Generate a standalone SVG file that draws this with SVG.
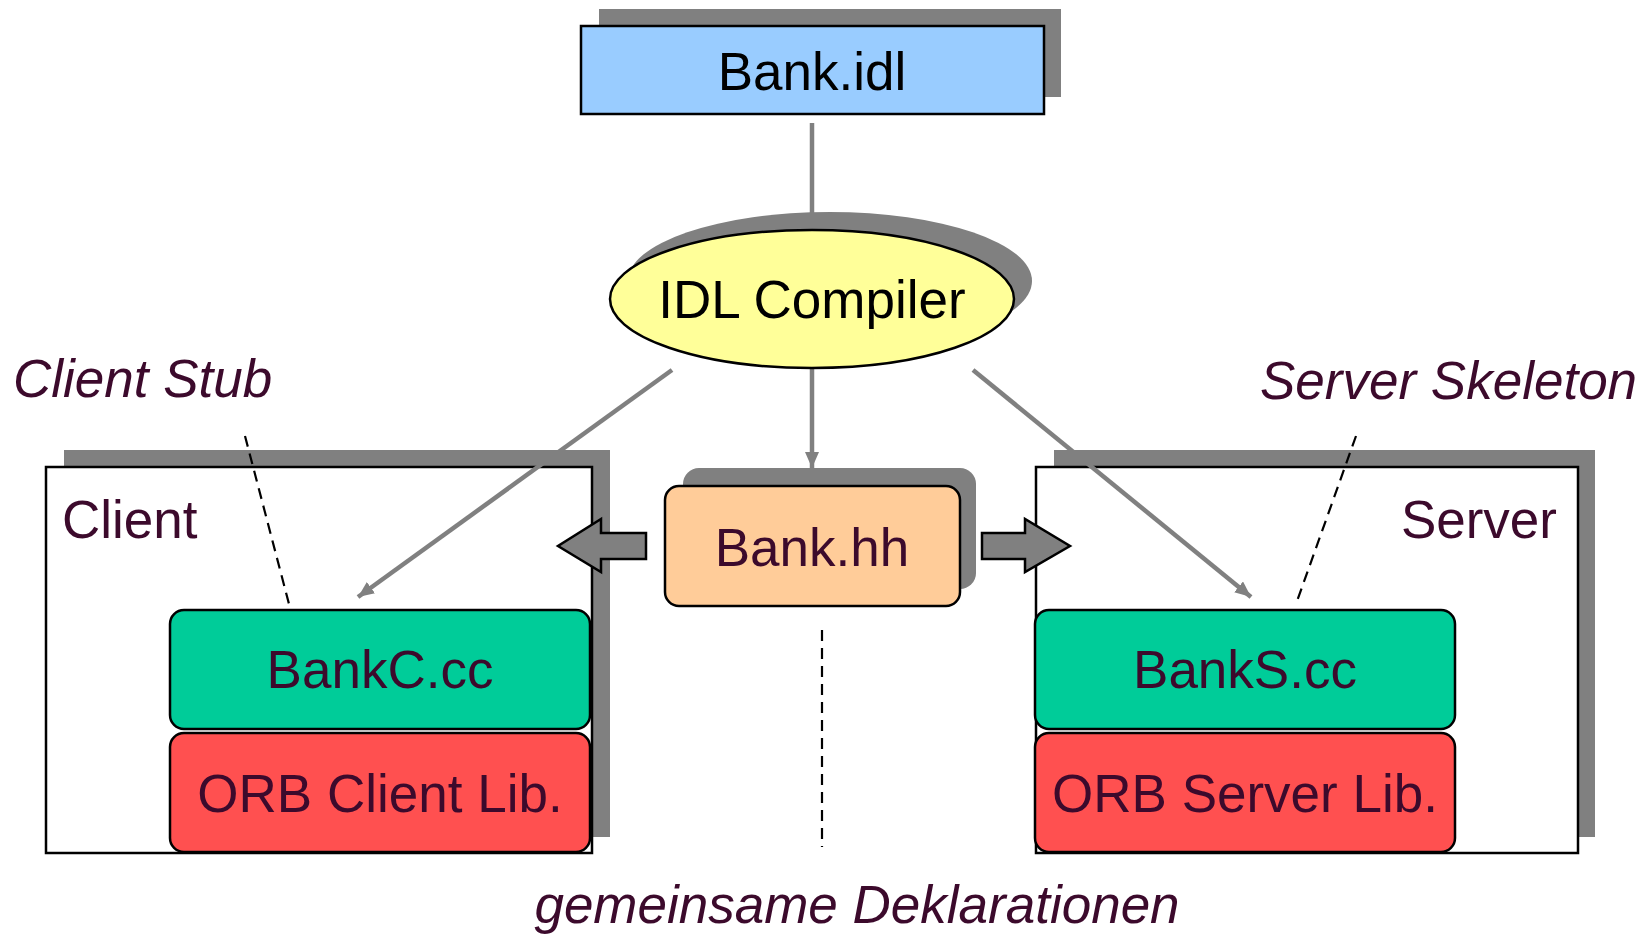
<svg xmlns="http://www.w3.org/2000/svg" width="1648" height="934" viewBox="0 0 1648 934">
<style>
text{font-family:"Liberation Sans",Arial,sans-serif;font-size:53px;fill:#3C0A2C}
.blk{fill:#000}
.it{font-style:italic}
.mid{text-anchor:middle}
.shd{fill:#808080;stroke:none}
.edge{stroke:#808080;stroke-width:4.5;fill:none}
.dash{stroke:#000;stroke-width:2.2;stroke-dasharray:11 7;fill:none}
.bx{stroke:#000;stroke-width:2.5}
.blockarrow{fill:#808080;stroke:#000;stroke-width:2.5}
</style>
<defs>
<marker id="ah" markerUnits="userSpaceOnUse" markerWidth="18" markerHeight="16" refX="16" refY="7" orient="auto">
<path d="M0,0 L16,7 L0,14 Z" fill="#808080"/>
</marker>
</defs>
<rect width="1648" height="934" fill="#fff"/>

<g id="client">
<rect class="shd" x="64" y="450" width="546" height="387"/>
<rect class="bx" x="46" y="467" width="546" height="386" fill="#fff"/>
<text x="62" y="538">Client</text>
</g>
<g id="server">
<rect class="shd" x="1054" y="450" width="541" height="387"/>
<rect class="bx" x="1036" y="467" width="542" height="386" fill="#fff"/>
<text x="1557" y="538" text-anchor="end">Server</text>
</g>

<g id="connectors">
<line class="edge" x1="812" y1="123" x2="812" y2="229" marker-end="url(#ah)"/>
<line class="edge" x1="812" y1="368" x2="812" y2="468" marker-end="url(#ah)"/>
<line class="edge" x1="672" y1="370" x2="358" y2="597" marker-end="url(#ah)"/>
<line class="edge" x1="973" y1="370" x2="1251" y2="597" marker-end="url(#ah)"/>
<line class="dash" x1="245" y1="436" x2="289" y2="604"/>
<line class="dash" x1="1356" y1="436" x2="1296" y2="604"/>
<line class="dash" x1="822" y1="630" x2="822" y2="847"/>
<path class="blockarrow" d="M646,533 L601,533 L601,519 L558,546 L601,572 L601,559 L646,559 Z"/>
<path class="blockarrow" d="M982,533 L1025,533 L1025,519 L1070,546 L1025,572 L1025,559 L982,559 Z"/>
</g>

<g id="bankidl">
<rect class="shd" x="599" y="9" width="462" height="88"/>
<rect class="bx" x="581" y="26" width="463" height="88" fill="#99CCFF"/>
<text class="mid blk" x="812" y="90">Bank.idl</text>
</g>

<g id="compiler">
<ellipse class="shd" cx="830" cy="281" rx="202" ry="69"/>
<ellipse class="bx" cx="812" cy="299" rx="202" ry="69" fill="#FFFF99"/>
<text class="mid blk" x="812" y="318">IDL Compiler</text>
</g>

<g id="bankhh">
<rect class="shd" x="683" y="468" width="293" height="121" rx="16"/>
<rect class="bx" x="665" y="486" width="295" height="120" rx="14" fill="#FFCC99"/>
<text class="mid" x="812" y="566">Bank.hh</text>
</g>

<g id="bankc">
<rect class="bx" x="170" y="610" width="420" height="119" rx="14" fill="#00CC99"/>
<text class="mid" x="380" y="688">BankC.cc</text>
</g>
<g id="orbclient">
<rect class="bx" x="170" y="733" width="420" height="119" rx="14" fill="#FF5050"/>
<text class="mid" x="380" y="812">ORB Client Lib.</text>
</g>
<g id="banks">
<rect class="bx" x="1035" y="610" width="420" height="119" rx="14" fill="#00CC99"/>
<text class="mid" x="1245" y="688">BankS.cc</text>
</g>
<g id="orbserver">
<rect class="bx" x="1035" y="733" width="420" height="119" rx="14" fill="#FF5050"/>
<text class="mid" x="1245" y="812">ORB Server Lib.</text>
</g>

<g id="labels">
<text class="it" x="13" y="397">Client Stub</text>
<text class="it" x="1260" y="399">Server Skeleton</text>
<text class="it mid" x="857" y="923">gemeinsame Deklarationen</text>
</g>
</svg>
